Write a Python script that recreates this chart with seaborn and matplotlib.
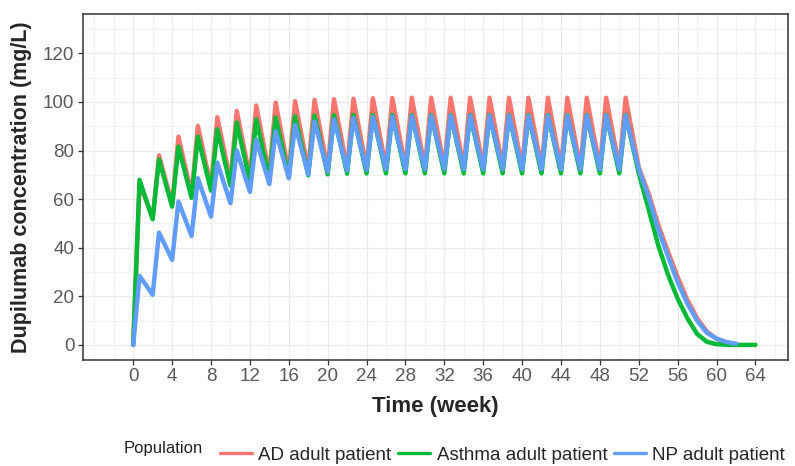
import numpy as np
import pandas as pd
import matplotlib
matplotlib.use("Agg")
import matplotlib.pyplot as plt
import seaborn as sns
from matplotlib.ticker import MultipleLocator

# Dosing schedule: one injection every 2 weeks, weeks 0-50
dose_weeks = [0, 2, 4, 6, 8, 10, 12, 14, 16, 18, 20, 22, 24,
              26, 28, 30, 32, 34, 36, 38, 40, 42, 44, 46, 48, 50]
peak_lag = 0.65  # weeks from injection to maximum concentration

populations = ["AD adult patient", "Asthma adult patient", "NP adult patient"]
palette = ["#F8766D", "#00BA38", "#619CFF"]

# Pre-dose (trough) and peak concentrations for each dosing interval, mg/L
ad_trough = [0.0, 52.3, 57.8, 61.8, 65.0, 67.4, 69.0, 70.3, 71.2, 71.9, 72.4, 72.7, 72.9,
             73.0, 73.0, 73.0, 73.0, 73.0, 73.0, 73.0, 73.0, 73.0, 73.0, 73.0, 73.0, 73.0]
ad_peak = [66.5, 78.0, 85.7, 90.1, 93.7, 96.3, 98.5, 99.7, 100.3, 100.8, 101.1, 101.3, 101.5,
           101.6, 101.7, 101.7, 101.7, 101.7, 101.7, 101.7, 101.7, 101.7, 101.7, 101.7, 101.7, 101.7]

asthma_trough = [0.0, 51.7, 56.9, 60.5, 63.5, 65.5, 67.0, 68.3, 69.2, 69.8, 70.2, 70.5, 70.6,
                 70.6, 70.6, 70.6, 70.6, 70.6, 70.6, 70.6, 70.6, 70.6, 70.6, 70.6, 70.6, 70.6]
asthma_peak = [67.9, 76.3, 81.6, 85.7, 88.7, 91.5, 92.8, 93.6, 94.1, 94.4, 94.5, 94.6, 94.6,
               94.6, 94.6, 94.6, 94.6, 94.6, 94.6, 94.6, 94.6, 94.6, 94.6, 94.6, 94.6, 94.6]

np_trough = [0.0, 20.6, 35.0, 44.8, 52.8, 58.3, 63.0, 66.2, 68.6, 70.2, 71.2, 71.8, 72.1,
             72.3, 72.3, 72.3, 72.3, 72.3, 72.3, 72.3, 72.3, 72.3, 72.3, 72.3, 72.3, 72.3]
np_peak = [28.4, 46.2, 59.0, 68.6, 75.0, 80.0, 84.5, 88.0, 90.5, 92.0, 92.8, 93.4, 93.8,
           94.0, 94.2, 94.3, 94.4, 94.4, 94.4, 94.4, 94.4, 94.4, 94.4, 94.4, 94.4, 94.4]

# Washout after the last injection
ad_tail_weeks = [52, 53, 54, 55, 56, 57, 58, 59, 60, 61, 62]
ad_tail = [73.0, 62.5, 49.5, 38.5, 28.0, 18.5, 11.0, 5.5, 2.5, 1.0, 0.3]
asthma_tail_weeks = [52, 53, 54, 55, 56, 57, 58, 59, 60, 61, 62, 63, 64]
asthma_tail = [70.6, 56.0, 41.0, 29.0, 19.0, 11.0, 4.5, 1.3, 0.3, 0.1, 0.0, 0.0, 0.0]
np_tail_weeks = [52, 53, 54, 55, 56, 57, 58, 59, 60, 61, 62]
np_tail = [72.3, 61.0, 47.5, 36.5, 25.8, 17.0, 10.0, 5.0, 2.6, 1.2, 0.5]


def profile(name, troughs, peaks, tail_weeks, tail_conc):
    weeks, conc = [], []
    for d, tr, pk in zip(dose_weeks, troughs, peaks):
        weeks += [d, d + peak_lag]
        conc += [tr, pk]
    weeks += tail_weeks
    conc += tail_conc
    return pd.DataFrame({"week": weeks, "conc": conc, "Population": name})


df = pd.concat([
    profile(populations[0], ad_trough, ad_peak, ad_tail_weeks, ad_tail),
    profile(populations[1], asthma_trough, asthma_peak, asthma_tail_weeks, asthma_tail),
    profile(populations[2], np_trough, np_peak, np_tail_weeks, np_tail),
], ignore_index=True)

sns.set_theme(style="white")
plt.rcParams["font.family"] = ["Liberation Sans", "DejaVu Sans"]

fig = plt.figure(figsize=(7.95, 4.66), dpi=100)
ax = fig.add_axes([0.1040, 0.2275, 0.8872, 0.7425])

sns.lineplot(data=df, x="week", y="conc", hue="Population", hue_order=populations,
             palette=palette, estimator=None, sort=False, linewidth=3.2, ax=ax)
for ln in ax.get_lines():
    ln.set_solid_joinstyle("round")
    ln.set_solid_capstyle("round")

ax.set_xlim(-5.2, 67.35)
ax.set_ylim(-6.2, 136.2)
ax.xaxis.set_major_locator(MultipleLocator(4))
ax.xaxis.set_minor_locator(MultipleLocator(2))
ax.set_xticks(range(0, 65, 4))
ax.yaxis.set_major_locator(MultipleLocator(20))
ax.yaxis.set_minor_locator(MultipleLocator(10))
ax.set_yticks(range(0, 121, 20))

ax.set_axisbelow(True)
ax.grid(which="major", color="#EBEBEB", linewidth=0.9)
ax.grid(which="minor", color="#F1F1F1", linewidth=0.7)
for sp in ax.spines.values():
    sp.set_visible(True)
    sp.set_color("#333333")
    sp.set_linewidth(1.1)

ax.tick_params(which="major", length=3.5, width=0.9, color="#333333",
               labelcolor="#5A5A5A", labelsize=13.5, pad=2.5,
               bottom=True, left=True)
ax.tick_params(which="minor", length=0)

ax.set_xlabel("Time (week)", fontsize=16, fontweight="bold", va="center")
ax.xaxis.set_label_coords(0.5, (360 - 407) / 346)
ax.set_ylabel("Dupilumab concentration (mg/L)", fontsize=15.5, fontweight="bold", va="center")
ax.yaxis.set_label_coords((22 - 82.7) / 705.3, 0.5)

handles, labels = ax.get_legend_handles_labels()
ax.get_legend().remove()
leg = fig.legend(handles, labels, loc="center left",
                 bbox_to_anchor=(220 / 795, 1 - 455 / 466), ncol=3, frameon=False,
                 fontsize=13.5, handlelength=1.7, handletextpad=0.35,
                 columnspacing=0.35, borderaxespad=0, borderpad=0)
for ln in leg.get_lines():
    ln.set_linewidth(2.4)
fig.text(124 / 795, 1 - 448 / 466, "Population", ha="left", va="center",
         fontsize=12, color="#222222")

fig.savefig("out.png", dpi=100)
